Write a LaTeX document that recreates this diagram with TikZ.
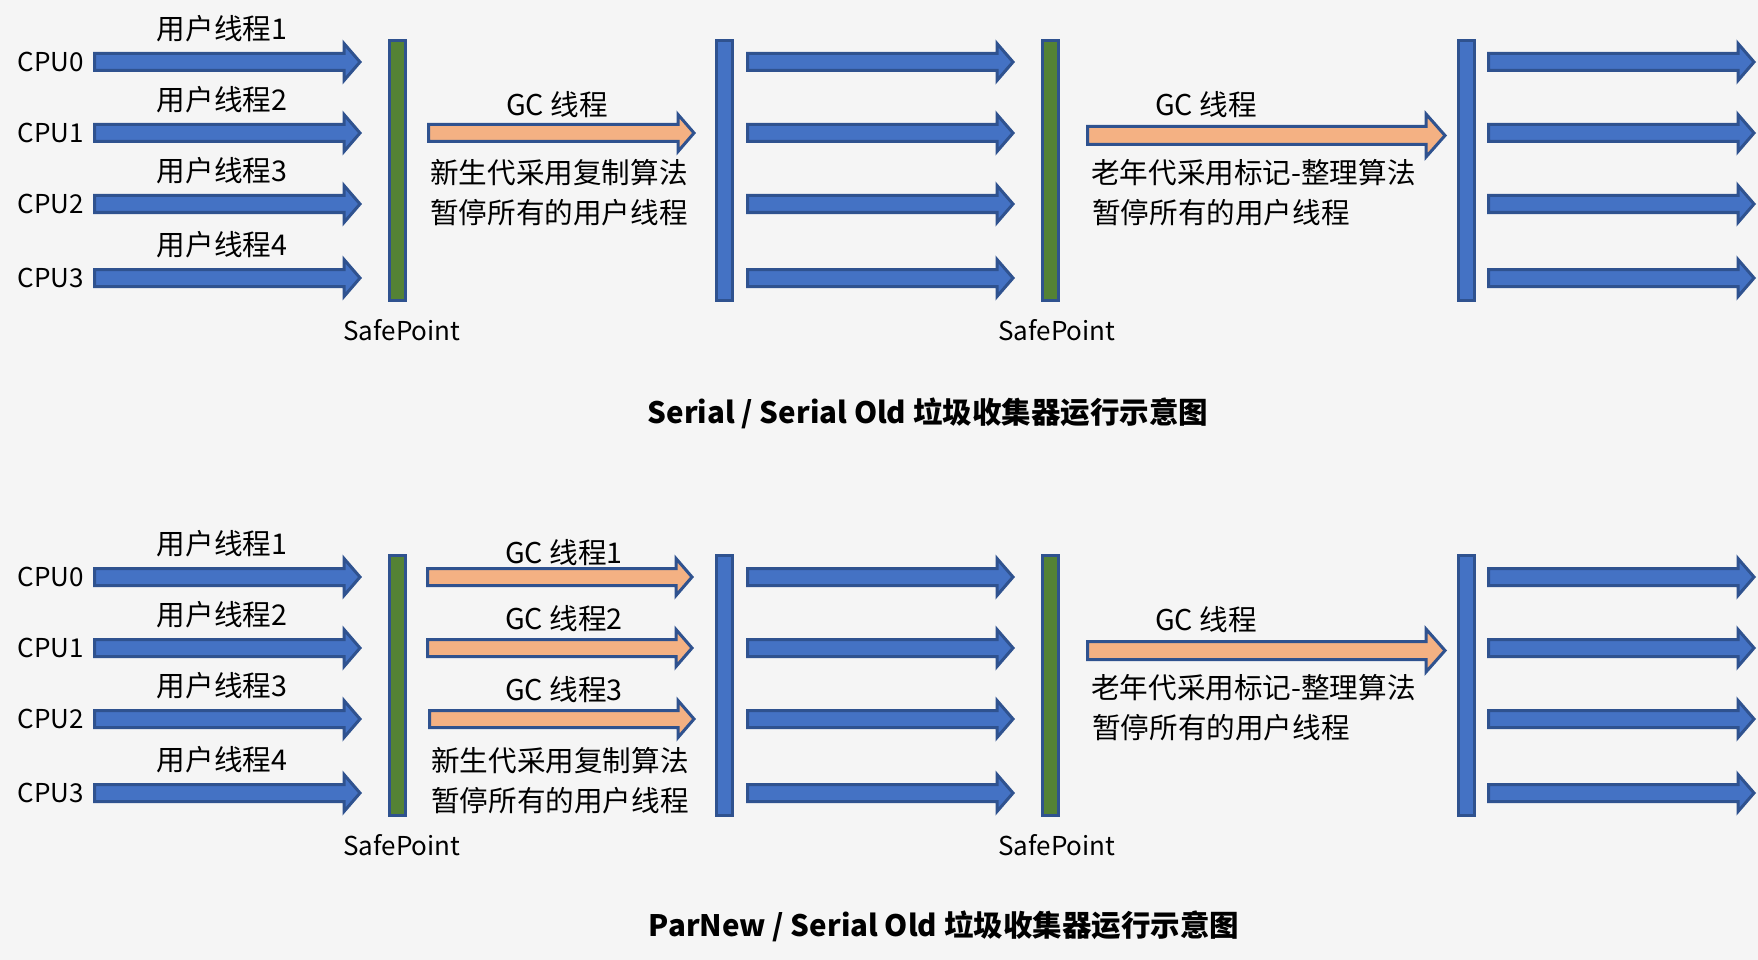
\documentclass[tikz,border=0pt]{standalone}
\usepackage{fontspec}
\setmainfont{Noto Sans CJK SC}
\definecolor{bgc}{HTML}{F5F5F5}
\definecolor{ublue}{HTML}{4472C4}
\definecolor{bblue}{HTML}{2F528F}
\definecolor{sgreen}{HTML}{548235}
\definecolor{gcorange}{HTML}{F4B183}
\tikzset{
  arrline/.style={draw=bblue, line width=3pt, line join=miter},
  barbox/.style={rectangle, draw=bblue, line width=3pt, minimum width=16pt, minimum height=260pt, inner sep=0pt},
  cpulbl/.style={anchor=east, inner sep=0pt, font=\fontsize{26}{30}\selectfont},
  lbl/.style={inner sep=0pt, font=\fontsize{28.6}{32}\selectfont},
  lblw/.style={anchor=west, inner sep=0pt, font=\fontsize{28.6}{32}\selectfont},
  splbl/.style={inner sep=0pt, font=\fontsize{26}{30}\selectfont},
  ttl/.style={inner sep=0pt, font=\fontsize{29.5}{34}\selectfont\bfseries},
}
% #1 fill, #2 outer left x, #3 outer tip x, #4 centre y, #5 body half, #6 head half, #7 head length
\newcommand\blockarr[7]{%
  \draw[arrline, fill=#1] (#2+1.5,#4-#5+1.5) -- (#3-#7,#4-#5+1.5) -- (#3-#7,#4-#6+1.5) -- (#3-2,#4)
    -- (#3-#7,#4+#6-1.5) -- (#3-#7,#4+#5-1.5) -- (#2+1.5,#4+#5-1.5) -- cycle;}
\begin{document}
\begin{tikzpicture}[x=1pt,y=-1pt]
\fill[bgc] (0,0) rectangle (1758,960);
\useasboundingbox (0,0) rectangle (1758,960);

\foreach \o/\s in {0/a,515/b} {
  \foreach \y/\i in {62/0,133/1,204/2,278/3} {
    \node[cpulbl] (cpu\i\s) at (84,\y+\o) {CPU\i};
    \blockarr{ublue}{93}{362}{\y+\o}{10}{20}{18}
    \blockarr{ublue}{746}{1015}{\y+\o}{10}{20}{18}
    \blockarr{ublue}{1487}{1756}{\y+\o}{10}{20}{18}
  }
  \foreach \y/\n in {29/1,100/2,171/3,245/4} {
    \node[lbl] (ut\n\s) at (222,\y+\o) {用户线程\n};
  }
  \node[barbox, fill=sgreen] (spa\s) at (397.5,170.5+\o) {};
  \node[barbox, fill=ublue]  (bb\s)  at (724,170.5+\o) {};
  \node[barbox, fill=sgreen] (spb\s) at (1050,170.5+\o) {};
  \node[barbox, fill=ublue]  (bc\s)  at (1466,170.5+\o) {};
  \node[splbl] (sptxta\s) at (402,330+\o) {SafePoint};
  \node[splbl] (sptxtb\s) at (1057,330+\o) {SafePoint};
  % old generation GC
  \blockarr{gcorange}{1086}{1447}{135.5+\o}{10.5}{23}{21}
  \node[lbl] (ogc\s) at (1206,105+\o) {GC 线程};
  \node[lblw] (oga\s) at (1091,173+\o) {老年代采用标记-整理算法};
  \node[lblw] (ogb\s) at (1092,213+\o) {暂停所有的用户线程};
}

% top: single young GC thread
\blockarr{gcorange}{427}{696}{133}{10}{20}{18}
\node[lbl] (ygc) at (557,105) {GC 线程};
\node[lblw] (yga) at (430,173) {新生代采用复制算法};
\node[lblw] (ygb) at (430,213) {暂停所有的用户线程};

% bottom: three parallel GC threads
\blockarr{gcorange}{426}{694}{577}{10}{20}{18}
\blockarr{gcorange}{426}{694}{648}{10}{20}{18}
\blockarr{gcorange}{428}{696}{719}{10}{20}{18}
\node[lbl] (pgc1) at (564,553) {GC 线程1};
\node[lbl] (pgc2) at (564,619) {GC 线程2};
\node[lbl] (pgc3) at (564,690) {GC 线程3};
\node[lblw] (pga) at (431,761) {新生代采用复制算法};
\node[lblw] (pgb) at (431,801) {暂停所有的用户线程};

\node[ttl] (t1) at (928,413) {Serial / Serial Old 垃圾收集器运行示意图};
\node[ttl] (t2) at (944,926) {ParNew / Serial Old 垃圾收集器运行示意图};
\end{tikzpicture}
\end{document}
